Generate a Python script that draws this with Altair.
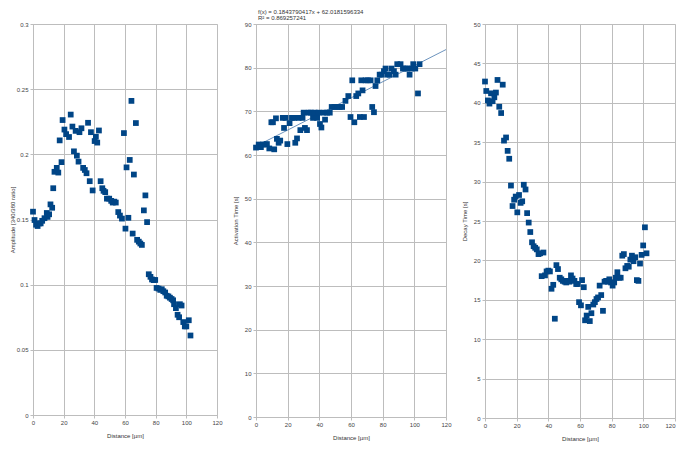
import altair as alt
import pandas as pd

# ---------------- data ----------------
x_ticks = [0, 20, 40, 60, 80, 100, 120]

amp_x = [0, 1, 2, 3, 4, 5, 6, 7.5, 9, 9.5,
         10.5, 11.4, 12.5, 13.2, 14, 15.5, 16.5, 17.4, 18.6, 19.3,
         20.5, 21.6, 23.5, 24.6, 25.7, 26.7, 27.8, 28.6, 29.7, 30.3,
         31.6, 32.7, 33.8, 34.9, 35.9, 37, 37.8, 38.9, 40.2, 41,
         41.9, 43, 44.1, 45.2, 46, 47.1, 48.2, 49.7, 51, 52,
         53, 54, 55.6, 56.7, 58, 59.3, 60.3, 61, 62.2, 63.1,
         64.2, 65, 65.8, 67.1, 67.9, 69, 70, 71, 72.3, 73.3,
         74.4, 75.5, 76.6, 77.6, 78.7, 79.7, 80.6, 81.9, 83, 84,
         85, 86.2, 87.2, 88.3, 89.3, 90.4, 91.4, 92, 93.2, 94.3,
         95.3, 95.8, 96.9, 98, 99, 100, 101.6, 102.7]
amp_y = [0.156, 0.1496, 0.146, 0.145, 0.147, 0.147, 0.149, 0.151, 0.155, 0.152,
         0.154, 0.1616, 0.159, 0.174, 0.1866, 0.1896, 0.186, 0.2107, 0.194, 0.2263,
         0.219, 0.2155, 0.2133, 0.2305, 0.2213, 0.2023, 0.218, 0.199, 0.1944, 0.217,
         0.220, 0.1896, 0.188, 0.1855, 0.2242, 0.1794, 0.217, 0.1723, 0.2102, 0.2135,
         0.209, 0.2183, 0.1794, 0.174, 0.172, 0.171, 0.166, 0.166, 0.1643, 0.163,
         0.1637, 0.163, 0.1557, 0.153, 0.1507, 0.2163, 0.143, 0.190, 0.1513, 0.1957,
         0.241, 0.1392, 0.1845, 0.224, 0.1344, 0.133, 0.1316, 0.1305, 0.157, 0.1685,
         0.148, 0.108, 0.106, 0.104, 0.1035, 0.1036, 0.0975, 0.097, 0.096, 0.0965,
         0.095, 0.094, 0.0915, 0.091, 0.090, 0.089, 0.088, 0.085, 0.082, 0.0769,
         0.075, 0.085, 0.084, 0.0713, 0.068, 0.068, 0.0727, 0.061]
amp_ticks = [0, 0.05, 0.1, 0.15, 0.2, 0.25, 0.3]

act_x = [0, 1.7, 3.1, 4.4, 5.9, 6.9, 8.4, 9.7, 10.7, 11.5,
         12.6, 13.2, 14.3, 15.3, 16.9, 17.7, 18.7, 19.8, 21.2, 22.7,
         24.2, 24.8, 25.9, 26.9, 28, 29.4, 30.1, 30.9, 32.2, 33.3,
         34.7, 36, 37.1, 38.6, 39.6, 40.4, 41.3, 42.7, 43.6, 44.9,
         46.6, 47.8, 49.5, 51.2, 52.9, 54.4, 56.5, 58.3, 59.7, 60.8,
         62.1, 63.3, 64.6, 65.6, 66.5, 67.3, 68.2, 69.2, 70.7, 72.4,
         73.4, 74.5, 75.5, 76.6, 78.1, 79.3, 80.8, 81.8, 82.9, 84.4,
         85.6, 87.1, 88.2, 89.2, 91.3, 92.8, 94.5, 95.6, 97, 98.3,
         99.3, 100.6, 102.3, 103.3]
act_y = [61.7, 62.4, 61.8, 62.4, 62.4, 62.5, 61.5, 67.5, 67.5, 61.3,
         68.4, 63.7, 62.8, 63.3, 68.5, 66.2, 68.5, 62.5, 67.3, 68.5,
         68.5, 62.8, 63.8, 68.5, 65.7, 68.5, 69.7, 66.2, 65.7, 69.7,
         69.7, 68.5, 69.7, 68.5, 69.7, 67.1, 66.3, 69.7, 68.1, 69.7,
         69.7, 71, 71, 71, 71, 71, 72.4, 73.5, 68.7, 77.1,
         67.5, 73.5, 74.1, 68.7, 77.1, 74.8, 68.7, 77.1, 77.1, 77.1,
         71.0, 69.8, 75.8, 77.1, 78.4, 78.4, 79.2, 79.8, 78.4, 78.4,
         79.8, 79.2, 78.4, 80.8, 80.8, 79.8, 79.8, 79.8, 78.4, 79.8,
         80.8, 79.8, 74.1, 80.8]
act_ticks = [0, 10, 20, 30, 40, 50, 60, 70, 80, 90]
trend_slope = 0.1843790417
trend_intercept = 62.0181596334
trend_r2 = "0.869257241"
trend_x = [0, 120]

dec_x = [0, 0.8, 1.8, 2.8, 3.8, 4.8, 5.9, 6.9, 7.9, 9,
         10.2, 11.2, 12, 13.3, 14.3, 15.3, 16.4, 17.4, 18.4, 19.4,
         20.4, 21.5, 22.5, 23.5, 24.5, 25.6, 26.6, 27.6, 28.6, 29.7,
         30.7, 31.7, 32.7, 33.8, 34.8, 35.8, 36.9, 37.9, 38.9, 40,
         41, 42, 43.1, 44.1, 45.1, 46.1, 47.2, 48.2, 49.2, 50.3,
         51.3, 52.3, 53.3, 54.3, 55.3, 56.5, 57.6, 58.6, 59.4, 60.6,
         61.3, 62.4, 63.2, 64.2, 65.2, 66.2, 67.2, 68.4, 69.4, 70.4,
         71.4, 72.4, 73.4, 74.5, 75.5, 76.5, 77.5, 78.5, 79.6, 80.6,
         81.6, 82.6, 83.6, 84.7, 85.7, 86.7, 87.7, 88.7, 89.8, 90.8,
         91.8, 92.8, 93.8, 94.9, 95.9, 96.9, 97.9, 98.9, 99.9, 101,
         102]
dec_y = [42.7, 41.5, 40.3, 39.9, 41.2, 40.2, 40.7, 41.3, 42.9, 39.5,
         38.7, 42.3, 35.2, 35.6, 33.9, 32.9, 29.5, 26.9, 27.7, 28.1,
         26.1, 28.3, 27.3, 27.5, 29.6, 29.0, 26.0, 24.8, 23.6, 22.3,
         21.8, 21.6, 21.4, 20.8, 20.9, 18.0, 21.0, 18.1, 18.6, 18.7,
         18.6, 16.4, 16.9, 12.6, 19.4, 18.9, 17.8, 17.6, 17.4, 17.3,
         17.2, 17.4, 17.3, 18.1, 17.7, 17.4, 17.0, 17.0, 14.7, 14.3,
         17.5, 16.6, 12.4, 13.0, 14.1, 12.3, 13.3, 14.4, 14.7, 15.1,
         15.3, 16.8, 15.6, 13.6, 17.3, 17.4, 17.3, 17.6, 17.2, 16.8,
         17.2, 17.8, 18.5, 17.8, 17.8, 20.6, 20.8, 19.0, 19.3, 19.2,
         20.1, 20.6, 19.9, 20.4, 17.5, 17.4, 19.6, 20.7, 21.9, 24.2,
         20.9]
dec_ticks = [0, 5, 10, 15, 20, 25, 30, 35, 40, 45, 50]

x_title = "Distance [µm]"

# ---------------- style ----------------
FONT = "Liberation Sans"
GRID = "#bdbdbd"
BLUE = "#004586"


def make_axis(values, title, title_pad, label_pad=2, label_align=None):
    kw = dict(values=values, title=title, format=".6~g", grid=True,
              gridColor=GRID, gridWidth=1, domainColor=GRID, tickColor=GRID,
              tickSize=3, labelFont=FONT, labelFontSize=6, labelColor="#444444",
              labelFlush=False, labelPadding=label_pad,
              titleFont=FONT, titleFontSize=6, titleFontWeight="normal",
              titleColor="#333333", titlePadding=title_pad)
    if label_align is not None:
        kw["labelAlign"] = label_align
    return alt.Axis(**kw)


def enc(ydom, yticks, ytitle, ytp, x_align=None):
    return dict(
        x=alt.X("x:Q", scale=alt.Scale(domain=[0, 120], nice=False),
                axis=make_axis(x_ticks, x_title, 7, 1, x_align)),
        y=alt.Y("y:Q", scale=alt.Scale(domain=ydom, nice=False),
                axis=make_axis(yticks, ytitle, ytp)),
    )


def points(xs, ys, ydom, yticks, ytitle, ytp, x_align=None):
    df = pd.DataFrame({"x": xs, "y": ys})
    return alt.Chart(df).mark_square(size=33, color=BLUE, opacity=1).encode(
        **enc(ydom, yticks, ytitle, ytp, x_align))


p1 = points(amp_x, amp_y, [0, 0.3], amp_ticks, "Amplitude [340/380 ratio]", 1
            ).properties(width=184, height=391)

trend_df = pd.DataFrame({"x": trend_x,
                         "y": [trend_slope * v + trend_intercept for v in trend_x]})
trend = alt.Chart(trend_df).mark_line(color="#5b87b6", strokeWidth=0.9).encode(
    **enc([0, 90], act_ticks, "Activation Time [s]", 6))
eq1 = alt.Chart(pd.DataFrame({"t": [f"f(x) = {trend_slope}x + {trend_intercept}"]})).mark_text(
    align="left", baseline="alphabetic", font=FONT, fontSize=6, color="#333333"
).encode(text="t:N", x=alt.value(2), y=alt.value(-10.5))
eq2 = alt.Chart(pd.DataFrame({"t": [f"R² = {trend_r2}"]})).mark_text(
    align="left", baseline="alphabetic", font=FONT, fontSize=6, color="#333333"
).encode(text="t:N", x=alt.value(2), y=alt.value(-4))
p2 = alt.layer(
    trend,
    points(act_x, act_y, [0, 90], act_ticks, "Activation Time [s]", 6),
    eq1, eq2,
).properties(width=190, height=393)

p3 = points(dec_x, dec_y, [0, 50], dec_ticks, "Decay Time [s]", 6,
            x_align=alt.expr("datum.value >= 120 ? 'right' : 'center'")
            ).properties(width=190, height=394)

chart = alt.hconcat(p1, p2, p3, spacing=39, bounds="flush").properties(
    padding=0
).configure_view(strokeWidth=0).configure(background="white")

chart.save("out.html", embed_options={"renderer": "svg", "actions": False})
